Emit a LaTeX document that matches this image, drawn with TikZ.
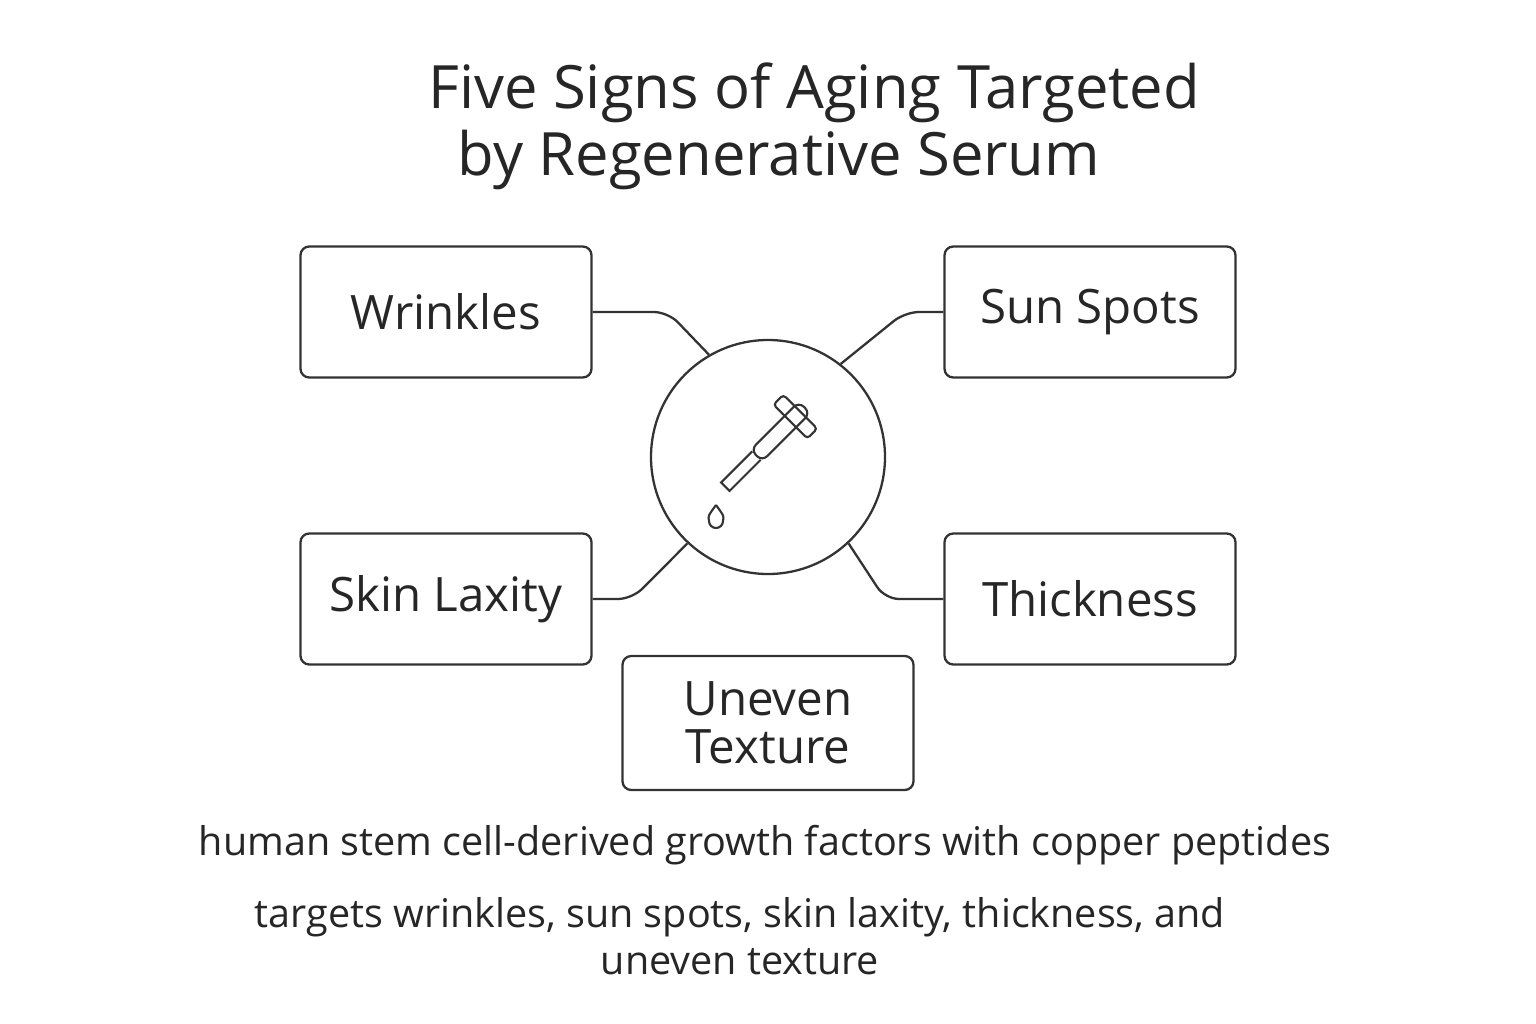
\documentclass[tikz,border=0pt]{standalone}
\usepackage{fontspec}
\setmainfont{Open Sans}
\begin{document}
\begin{tikzpicture}[x=0.02cm,y=-0.02cm,line width=1.3pt,draw=black!80,
  sign/.style={draw=black!80,rounded corners=5pt,minimum width=291*0.02cm,minimum height=131*0.02cm,
    font=\fontsize{27}{28}\selectfont,text=black!85,align=center},
  note/.style={font=\fontsize{22.5}{27}\selectfont,text=black!85,align=center},
  link/.style={draw=black!80,rounded corners=8pt}]
\useasboundingbox[fill=white] (0,0) rectangle (1536,1024);
% title
\node[font=\fontsize{34}{40}\selectfont,text=black!85] (title) at (814,93) {Five Signs of Aging Targeted};
\node[font=\fontsize{34}{40}\selectfont,text=black!85] (subtitle) at (779,160) {by Regenerative Serum};
% signs
\node[sign] (wrinkles) at (446,312) {Wrinkles};
\node[sign] (sunspots) at (1090,312) {Sun Spots};
\node[sign] (laxity) at (446,599) {Skin Laxity};
\node[sign] (thickness) at (1090,599) {Thickness};
\node[sign,minimum height=134*0.02cm,font=\fontsize{27}{27}\selectfont] (texture) at (768,723) {Uneven\\Texture};
% serum
\node[draw=black!80,circle,minimum size=234*0.02cm] (serum) at (768,457) {};
\begin{scope}[shift={(772,440)},rotate=-45,line width=1.2pt]
  \draw[rounded corners=4pt] (-8,-46) rectangle (8,22);
  \draw[rounded corners=2pt] (-24,-40) rectangle (24,-26);
  \draw (-6,22) -- (-6,66) -- (6,66) -- (6,22);
\end{scope}
\draw[line width=1.2pt] (716,505) .. controls (708,516) .. (709,521) arc(180:0:7) .. controls (724,516) .. (716,505);
% links
\draw[link] (wrinkles.east) -- (668,312) -- (serum.120);
\draw[link] (sunspots.west) -- (905,312) -- (serum.52);
\draw[link] (laxity.east) -- (632,599) -- (serum.-133);
\draw[link] (thickness.west) -- (885,599) -- (serum.-47);
% notes
\node[note] (growth) at (765,845) {human stem cell-derived growth factors with copper peptides};
\node[note] (targets) at (740,936) {targets wrinkles, sun spots, skin laxity, thickness, and\\uneven texture};
\end{tikzpicture}
\end{document}
